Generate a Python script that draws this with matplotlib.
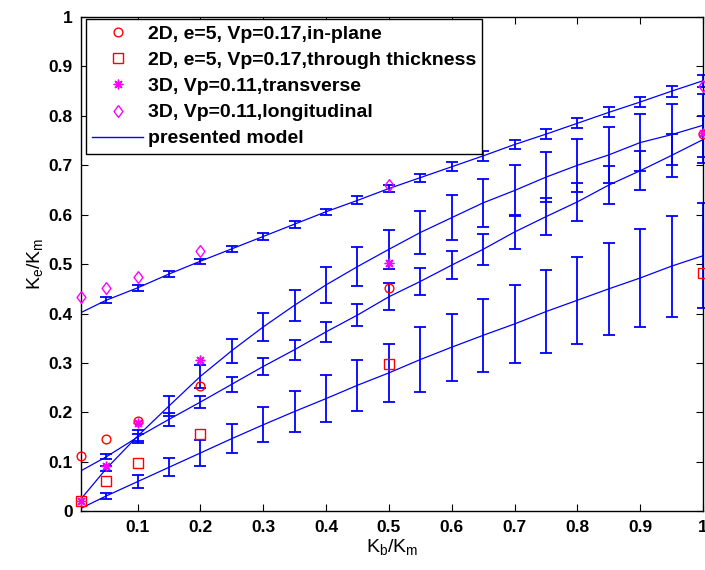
import matplotlib
matplotlib.use('Agg')
import matplotlib.pyplot as plt
from matplotlib.lines import Line2D

# model x positions and values (K_e/K_m) for the four model curves
x_model = [0.01, 0.05, 0.10, 0.15, 0.20, 0.25, 0.30, 0.35, 0.40, 0.45, 0.50,
           0.55, 0.60, 0.65, 0.70, 0.75, 0.80, 0.85, 0.90, 0.95, 1.00]
model_long = [0.402, 0.427, 0.452, 0.480, 0.506, 0.531, 0.556, 0.581, 0.606, 0.629, 0.653,
              0.675, 0.697, 0.719, 0.742, 0.763, 0.785, 0.807, 0.828, 0.850, 0.871]
model_steep = [0.025, 0.086, 0.152, 0.213, 0.273, 0.325, 0.373, 0.417, 0.458, 0.495, 0.530,
               0.564, 0.594, 0.624, 0.649, 0.676, 0.700, 0.721, 0.746, 0.762, 0.781]
model_mid = [0.082, 0.110, 0.150, 0.186, 0.221, 0.257, 0.293, 0.327, 0.363, 0.397, 0.434,
             0.465, 0.498, 0.530, 0.565, 0.596, 0.626, 0.660, 0.689, 0.720, 0.752]
model_low = [0.006, 0.031, 0.060, 0.089, 0.118, 0.147, 0.175, 0.202, 0.228, 0.255, 0.280,
             0.307, 0.332, 0.356, 0.379, 0.404, 0.427, 0.450, 0.472, 0.496, 0.517]

# error bar half-widths (from x=0.05 on)
err_long = [0.006, 0.006, 0.006, 0.005, 0.006, 0.007, 0.007, 0.006, 0.008, 0.008,
            0.008, 0.009, 0.010, 0.010, 0.010, 0.010, 0.010, 0.011, 0.011, 0.012]
err_steep = [0.005, 0.013, 0.020, 0.023, 0.024, 0.028, 0.031, 0.036, 0.039, 0.040,
             0.044, 0.045, 0.048, 0.051, 0.051, 0.054, 0.057, 0.057, 0.062, 0.064]
err_mid = [0.005, 0.007, 0.013, 0.013, 0.015, 0.017, 0.020, 0.020, 0.023, 0.027,
           0.028, 0.029, 0.032, 0.035, 0.037, 0.038, 0.039, 0.040, 0.044, 0.047]
err_low = [0.006, 0.013, 0.018, 0.026, 0.030, 0.035, 0.042, 0.048, 0.052, 0.058,
           0.065, 0.068, 0.074, 0.079, 0.084, 0.088, 0.093, 0.099, 0.102, 0.106]

# reference data points
x_data = [0.01, 0.05, 0.1, 0.2, 0.5, 1.0]
inplane_2d = [0.112, 0.147, 0.183, 0.254, 0.451, 0.763]
thickness_2d = [0.021, 0.061, 0.098, 0.156, 0.298, 0.483]
transverse_3d = [0.021, 0.092, 0.178, 0.306, 0.503, 0.765]
longitudinal_3d = [0.433, 0.451, 0.475, 0.527, 0.660, 0.861]

x_ticks = [0.1, 0.2, 0.3, 0.4, 0.5, 0.6, 0.7, 0.8, 0.9, 1.0]
x_ticklabels = ['0.1', '0.2', '0.3', '0.4', '0.5', '0.6', '0.7', '0.8', '0.9', '1']
y_ticks = [0, 0.1, 0.2, 0.3, 0.4, 0.5, 0.6, 0.7, 0.8, 0.9, 1.0]
y_ticklabels = ['0', '0.1', '0.2', '0.3', '0.4', '0.5', '0.6', '0.7', '0.8', '0.9', '1']

legend_labels = ['2D, e=5, Vp=0.17,in-plane',
                 '2D, e=5, Vp=0.17,through thickness',
                 '3D, Vp=0.11,transverse',
                 '3D, Vp=0.11,longitudinal',
                 'presented model']

plt.rcParams['font.family'] = ['Liberation Sans', 'DejaVu Sans']
plt.rcParams['mathtext.fontset'] = 'custom'
plt.rcParams['mathtext.rm'] = 'Liberation Sans'

W, H = 705, 570
fig = plt.figure(figsize=(W / 100, H / 100), dpi=100)
ax = fig.add_axes([81 / W, (H - 511.3) / H, 622 / W, 494.3 / H])

blue = (0, 0, 1)
magenta = (1, 0, 1)
red = (1, 0, 0)
# matlab-like diamond, a bit wider than matplotlib's thin diamond
diamond = [(0, 1), (0.75, 0), (0, -1), (-0.75, 0), (0, 1)]
asterisk = (8, 2, 0)

for ym, ye in [(model_long, err_long), (model_steep, err_steep),
               (model_mid, err_mid), (model_low, err_low)]:
    ax.plot(x_model, ym, color=blue, lw=0.9)
    ax.errorbar(x_model[1:], ym[1:], yerr=ye, fmt='none', ecolor=blue,
                elinewidth=1.3, capsize=4.5, capthick=1.3, clip_on=False)

mk = dict(linestyle='none', markerfacecolor='none', markeredgewidth=1, clip_on=False, zorder=5)
ax.plot(x_data, inplane_2d, marker='o', color=red, markersize=6.3, **mk)
ax.plot(x_data, thickness_2d, marker='s', color=red, markersize=7.2, **mk)
ax.plot(x_data, transverse_3d, marker=asterisk, color=magenta, markersize=7, **mk)
ax.plot(x_data, longitudinal_3d, marker=diamond, color=magenta, markersize=8.5, **mk)

ax.set_xlim(0.01, 1)
ax.set_ylim(0, 1)
ax.set_xticks(x_ticks)
ax.set_xticklabels(x_ticklabels)
ax.set_yticks(y_ticks)
ax.set_yticklabels(y_ticklabels)
ax.tick_params(direction='in', length=5, top=True, right=True, labelsize=12.5, pad=6)
for lab in ax.get_xticklabels() + ax.get_yticklabels():
    lab.set_fontweight('bold')
for sp in ax.spines.values():
    sp.set_linewidth(1)

ax.set_xlabel(r'K$_\mathregular{b}$/K$_\mathregular{m}$', fontsize=14, labelpad=2)
ax.set_ylabel(r'K$_\mathregular{e}$/K$_\mathregular{m}$', fontsize=14, labelpad=2)

handles = [
    Line2D([], [], marker='o', color=red, markerfacecolor='none', linestyle='none', markersize=6.3),
    Line2D([], [], marker='s', color=red, markerfacecolor='none', linestyle='none', markersize=7.2),
    Line2D([], [], marker=asterisk, color=magenta, linestyle='none', markersize=7),
    Line2D([], [], marker=diamond, color=magenta, markerfacecolor='none', linestyle='none', markersize=8.5),
    Line2D([], [], color=blue, lw=1),
]
leg = ax.legend(handles, legend_labels, loc='upper left', bbox_to_anchor=(5 / 622, 1 - 2 / 494.3),
                prop={'size': 14, 'weight': 'bold'}, frameon=True, fancybox=False,
                edgecolor='black', framealpha=1, borderaxespad=0, borderpad=0.32,
                handlelength=2.6, handletextpad=0.25, labelspacing=0.44)
leg.get_frame().set_linewidth(1)

fig.savefig('out.png', dpi=100)
